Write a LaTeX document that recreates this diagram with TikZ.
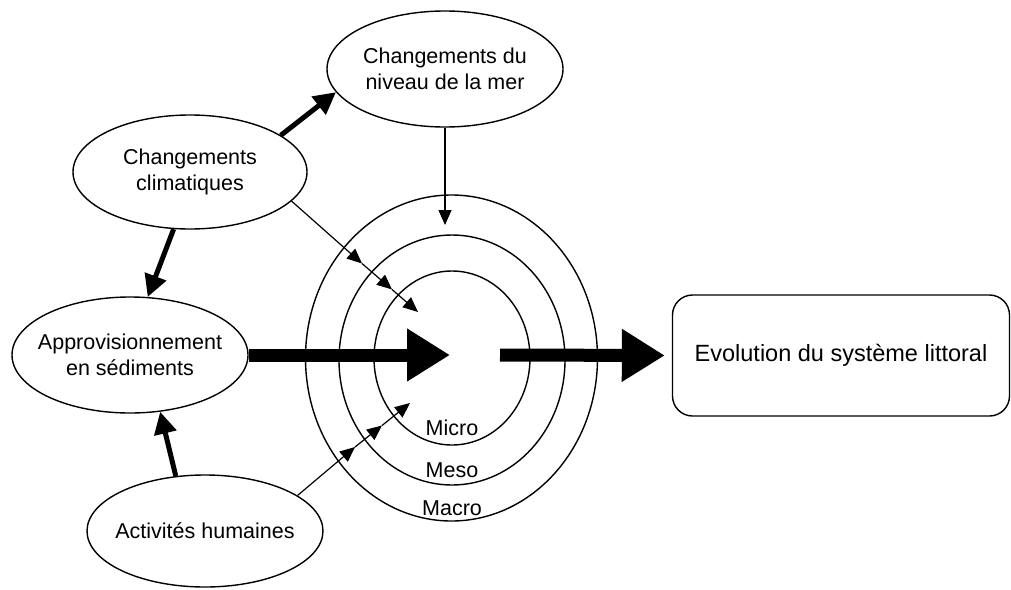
\documentclass[tikz,border=0pt]{standalone}
\usepackage{fontspec}
\setmainfont{Liberation Sans}
\usetikzlibrary{shapes.geometric,arrows.meta}
\begin{document}
\begin{tikzpicture}[x=1pt,y=-1pt,
  oval/.style={draw, ellipse, line width=1.4pt, inner sep=0pt},
  txt/.style={align=center, inner sep=0pt, font=\fontsize{21.5}{26}\selectfont},
  ring/.style={draw, line width=1.4pt},
  thinarr/.style={line width=1.2pt, -{Triangle[length=15pt,width=13pt]}},
  thickarr/.style={line width=5pt, -{Triangle[length=22pt,width=22pt]}},
  bigarr/.style={line width=13pt, -{Triangle[length=43pt,width=50pt]}},
  lab/.style={font=\fontsize{21.5}{26}\selectfont, anchor=base, inner sep=0pt}
]
\useasboundingbox[fill=white] (0,0) rectangle (1011,589);

% ellipses
\node[oval, minimum width=236pt, minimum height=116pt] (mer) at (445,69) {};
\node[txt] at (mer) {Changements du\\niveau de la mer};
\node[oval, minimum width=234pt, minimum height=114pt] (clim) at (190,172) {};
\node[txt] at (clim) {Changements\\climatiques};
\node[oval, minimum width=236pt, minimum height=116pt] (appro) at (130,355) {};
\node[txt] at (appro) {Approvisionnement\\en sédiments};
\node[oval, minimum width=236pt, minimum height=112pt] (act) at (205,531) {};
\node[txt] at (act) {Activités humaines};

% box
\node[draw, rounded corners=20pt, line width=1.4pt, minimum width=337pt, minimum height=121pt,
      font=\fontsize{23.5}{28}\selectfont] (evo) at (841,355.5) {Evolution du système littoral};

% rings
\draw[ring] (452,358) ellipse [x radius=78pt, y radius=87pt];
\draw[ring] (452,360) ellipse [x radius=113pt, y radius=125pt];
\draw[ring] (451.5,358) ellipse [x radius=146pt, y radius=163pt];
\node[lab] (micro) at (452,435) {Micro};
\node[lab] (meso) at (452,477) {Meso};
\node[lab] (macro) at (452,515) {Macro};

% coordinates
\coordinate (v1) at (445,225);
\coordinate (a1) at (362,263.5);
\coordinate (a2) at (392,289.5);
\coordinate (a3) at (418,312);
\coordinate (b1) at (355,447);
\coordinate (b2) at (382,425.5);
\coordinate (b3) at (410,403);
\coordinate (ctr) at (450,355);
\coordinate (out) at (500,355);

% thick arrows
\draw[thickarr] (clim.22.3) -- (mer.192.6);
\draw[thickarr] (clim.-106) -- (appro.73);
\draw[thickarr] (act.118) -- (appro.-62);

% thin arrows
\draw[thinarr] (mer.south) -- (v1);
\draw[thinarr] (clim.-16.5) -- (a1);
\draw[thinarr] (a1) -- (a2);
\draw[thinarr] (a2) -- (a3);
\draw[thinarr] (act.21.8) -- (b1);
\draw[thinarr] (b1) -- (b2);
\draw[thinarr] (b2) -- (b3);

% big arrows
\draw[bigarr] (appro.east) -- (ctr);
\draw[bigarr, shorten >=7pt] (out) -- (evo.west);
\end{tikzpicture}
\end{document}
